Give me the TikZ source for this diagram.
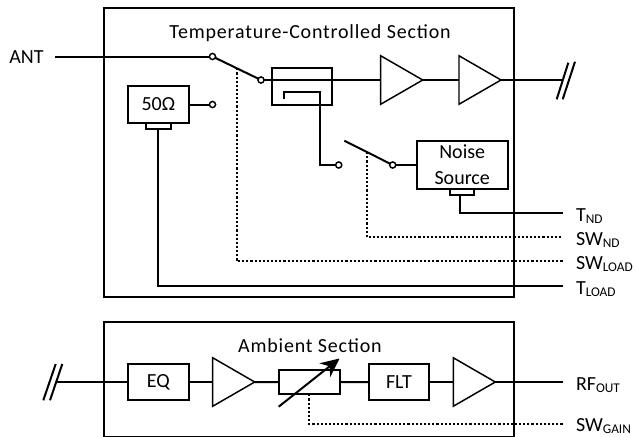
\documentclass[tikz,border=0pt]{standalone}
\usepackage{fontspec}
\setmainfont{Carlito}
\usetikzlibrary{arrows.meta, positioning, shapes.geometric}
\newcommand{\sublabel}[2]{#1\raisebox{-1.5pt}{\fontsize{10pt}{11pt}\selectfont #2}}
\newcommand{\lowtext}[1]{\raisebox{-1.3pt}{#1}}

\begin{document}
\begin{tikzpicture}[x=0.75pt, y=-0.75pt, line width=1.5pt, >=Stealth,
    every node/.style={font=\fontsize{15pt}{17pt}\selectfont},
    section/.style={draw, minimum width=307.9pt, inner sep=0pt, outer sep=0pt},
    sectitle/.style={inner sep=0pt, font=\fontsize{15pt}{17pt}\selectfont\addfontfeature{LetterSpace=4}},
    comp/.style={draw, minimum width=45.5pt, minimum height=27.3pt, inner sep=0pt, outer sep=0pt, align=center},
    tab/.style={draw, minimum width=18.4pt, minimum height=4.7pt, inner sep=0pt, outer sep=0pt},
    amp/.style={draw, line width=1.1pt, regular polygon, regular polygon sides=3, shape border rotate=-90,
      minimum size=42pt, inner sep=0pt, outer sep=0pt},
    contact/.style={draw, line width=1.1pt, fill=white, circle, minimum size=4.6pt, inner sep=0pt, outer sep=0pt},
    siglabel/.style={anchor=base west, inner sep=0pt},
    ctrl/.style={dash pattern=on 1.6pt off 1.5pt},
  ]
  \useasboundingbox (0,0) rectangle (635,436);
  % temperature-controlled section
  \node[section, minimum height=216.8pt] (hot) at (309.2,152.5) {};
  \node[sectitle] (hottitle) at (310,33) {Temperature-Controlled Section};
  \node[inner sep=0pt] (ant) at (26.5,57) {ANT};
  \node[contact] (swa) at (212.5,56.5) {};
  \node[contact] (swb) at (261,80) {};
  \node[draw, minimum width=45pt, minimum height=27.3pt, inner sep=0pt, outer sep=0pt] (cpl) at (302,86.3) {};
  \node[amp] (amp1) at (394.7,80) {};
  \node[amp] (amp2) at (473,80) {};
  \coordinate (cut1) at (563,80);
  \coordinate (antend) at (55,56.5);
  \draw (antend) -- (swa);
  \draw (swa) -- coordinate[midway] (swamid) (swb);
  \draw (swb) -- (amp1.west);
  \draw (amp1.east) -- (amp2.west);
  \draw (amp2.east) -- (cut1);
  \draw ([shift={(-6.3,19.3)}]cut1) -- ([shift={(5.3,-17.3)}]cut1);
  \draw ([shift={(-0.3,19.3)}]cut1) -- ([shift={(12,-18.3)}]cut1);
  % load
  \node[comp] (load) at (158.3,104.3) {\lowtext{50Ω}};
  \node[tab, below=0pt of load] (loadtab) {};
  \node[contact] (loadsw) at (212.5,104.5) {};
  \draw (load.east |- loadsw) -- (loadsw);
  % noise source
  \node[comp, minimum width=68.2pt, minimum height=36.2pt] (noise) at (462.2,164.8)
    {Noise\\[2.7pt]Source};
  \node[tab, below=0pt of noise] (noisetab) {};
  \node[contact] (cplsw) at (338.7,165) {};
  \node[contact] (ndsw) at (392.7,165) {};
  \coordinate (ndfree) at (344.3,140.7);
  \coordinate (cplstart) at (284,99.3);
  \draw (cplstart) |- (319.6,92.3) |- (cplsw);
  \draw (ndfree) -- coordinate[midway] (ndmid) (ndsw);
  \draw (ndsw) -- (noise.west |- ndsw);
  % signals on the right
  \foreach \nm/\y/\dy/\txt/\sub in {tnd/213.3/8.5/T/ND, swnd/237.3/8.5/SW/ND, swload/261.3/8.5/SW/LOAD, tload/285.7/8.5/T/LOAD, rfout/382/8.5/RF/OUT, swgain/424.3/7.2/SW/GAIN} {
    \coordinate (\nm) at (563,\y);
    \node[siglabel] (\nm label) at (575,\y+\dy) {\sublabel{\txt}{\sub}};
  }
  \draw (noisetab.south -| 460,0) |- (tnd);
  \draw[ctrl] (ndmid) |- (swnd);
  \draw[ctrl] (swamid) |- (swload);
  \draw (loadtab) |- (tload);
  % ambient section
  \node[section, minimum height=86pt] (amb) at (309.2,379.35) {};
  \node[sectitle] (ambtitle) at (310,346) {Ambient Section};
  \coordinate (cut2) at (57,382);
  \node[comp] (eq) at (158.3,382) {\lowtext{EQ}};
  \node[amp] (amp3) at (226.7,382) {};
  \node[comp, minimum height=18pt] (att) at (309.3,382.3) {};
  \node[comp] (flt) at (399,382) {\lowtext{FLT}};
  \node[amp] (amp4) at (467.3,382) {};
  \draw ([shift={(-13.7,18.3)}]cut2) -- ([shift={(-1.3,-18)}]cut2);
  \draw ([shift={(-7,18.3)}]cut2) -- ([shift={(5.3,-18)}]cut2);
  \draw (cut2) -- (eq);
  \draw (eq) -- (amp3.west);
  \draw (amp3.east) -- (att);
  \draw (att) -- (flt);
  \draw (flt) -- (amp4.west);
  \draw (amp4.east) -- (rfout);
  \draw[-{Stealth[length=14pt, width=13pt]}] ([shift={(-30.6,24.4)}]att.center) -- ([shift={(30.2,-23.8)}]att.center);
  \draw[ctrl] (att.south) |- (swgain);
\end{tikzpicture}
\end{document}
